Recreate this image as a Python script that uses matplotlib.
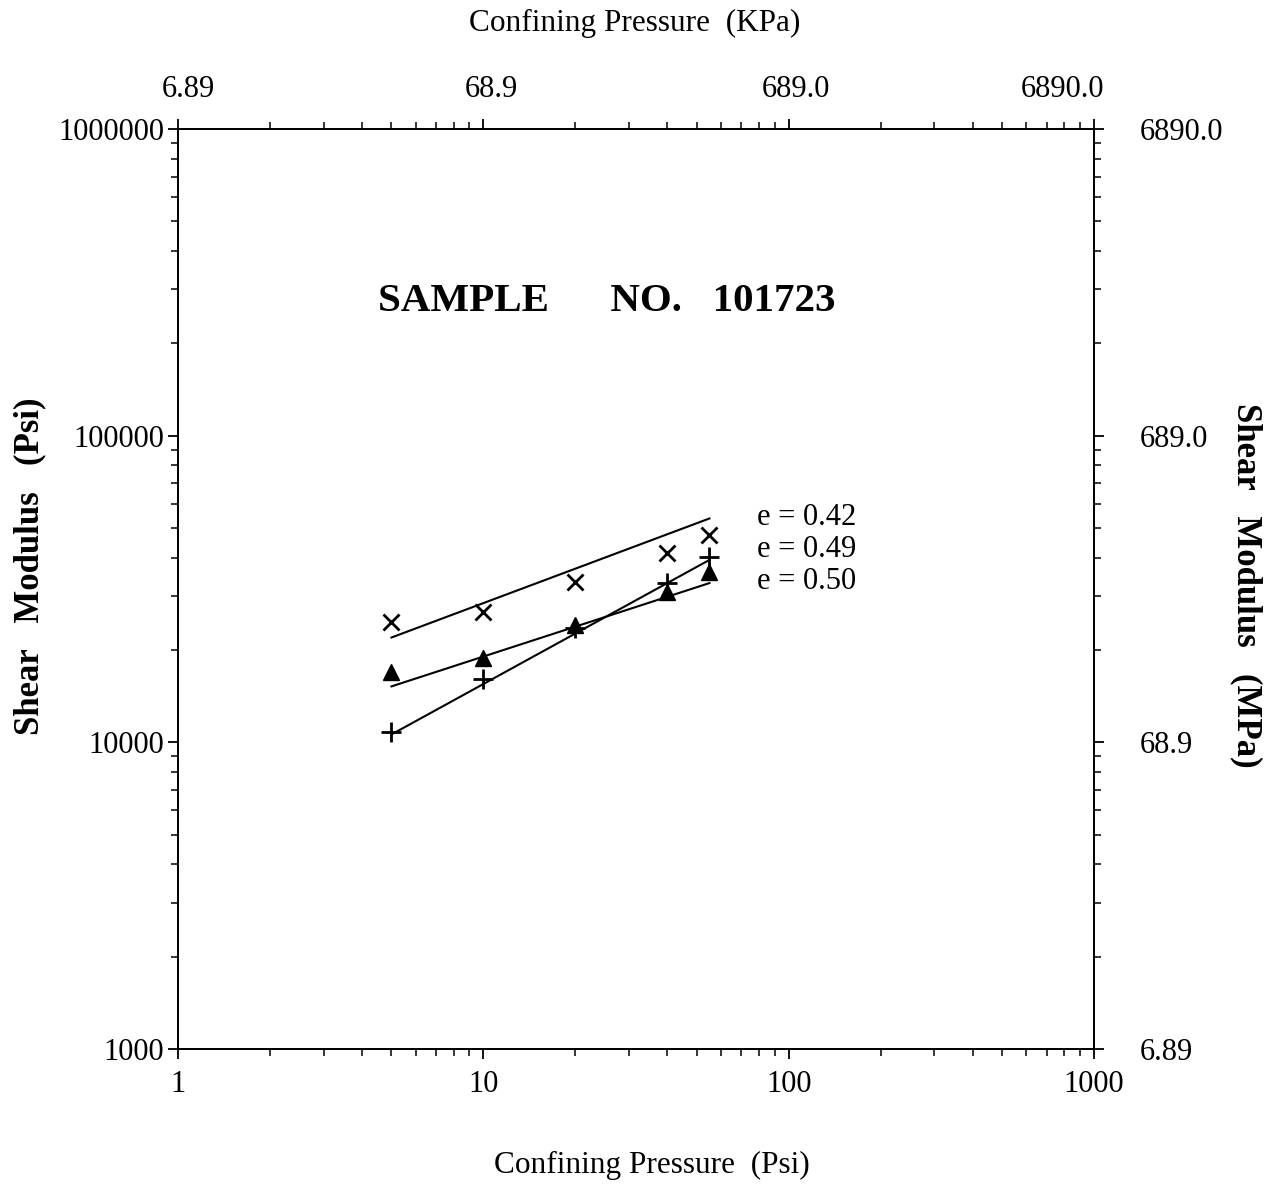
import matplotlib
matplotlib.use("Agg")
import matplotlib.pyplot as plt
import matplotlib.transforms as mtransforms
from matplotlib.ticker import LogLocator, NullFormatter, FixedLocator

plt.rcParams['font.family'] = ['Liberation Serif', 'DejaVu Serif']

# ---- data ----
pressure_psi = [5, 10, 20, 40, 55]
g_e042 = [24700, 26600, 33300, 41400, 47400]
g_e049 = [10800, 16100, 23600, 33100, 40200]
g_e050 = [16960, 18840, 24150, 30900, 35930]

fit_x = [5, 55]
fit_e042 = [21970, 53700]
fit_e049 = [10610, 39340]
fit_e050 = [15220, 33060]

labels_e = ["e = 0.42", "e = 0.49", "e = 0.50"]
label_y = [54300, 42700, 33350]
label_x = 78.8

x_ticks = [1, 10, 100, 1000]
x_ticklabels = ["1", "10", "100", "1000"]
top_ticklabels = ["6.89", "68.9", "689.0", "6890.0"]
y_ticks = [1000, 10000, 100000, 1000000]
y_ticklabels = ["1000", "10000", "100000", "1000000"]
right_ticklabels = ["6.89", "68.9", "689.0", "6890.0"]

fig = plt.figure(figsize=(12.8, 11.88), dpi=100)
ax = fig.add_axes([0.1391, 0.1170, 0.7156, 0.7744])
ax.set_xscale('log')
ax.set_yscale('log')
ax.set_xlim(1, 1000)
ax.set_ylim(1000, 1000000)

lw = 1.5
ax.plot(fit_x, fit_e042, color='black', lw=lw)
ax.plot(fit_x, fit_e049, color='black', lw=lw)
ax.plot(fit_x, fit_e050, color='black', lw=lw)
ax.plot(pressure_psi, g_e042, linestyle='none', marker='x', ms=12, mew=2, color='black')
ax.plot(pressure_psi, g_e049, linestyle='none', marker='+', ms=15, mew=2, color='black')
ax.plot(pressure_psi, g_e050, linestyle='none', marker='^', ms=11, color='black')

for t, yv in zip(labels_e, label_y):
    ax.text(label_x, yv, t, fontsize=22, va='center', ha='left')

ax.text(0.468, 0.812, "SAMPLE      NO.   101723", transform=ax.transAxes,
        fontsize=29.5, fontweight='bold', ha='center', va='center')

def style(a):
    a.tick_params(which='major', direction='out', length=7, width=1.3, labelsize=22, pad=3)
    a.tick_params(which='minor', direction='out', length=5, width=1.1)

ax.xaxis.set_major_locator(FixedLocator(x_ticks))
ax.set_xticklabels(x_ticklabels)
ax.yaxis.set_major_locator(FixedLocator(y_ticks))
ax.set_yticklabels(y_ticklabels)
ax.xaxis.set_minor_locator(LogLocator(base=10, subs=range(2, 10)))
ax.yaxis.set_minor_locator(LogLocator(base=10, subs=range(2, 10)))
ax.xaxis.set_minor_formatter(NullFormatter())
ax.yaxis.set_minor_formatter(NullFormatter())
style(ax)
ax.tick_params(axis='x', which='major', pad=8)

axt = ax.twiny()
axt.set_xscale('log')
axt.set_xlim(ax.get_xlim())
axt.xaxis.set_major_locator(FixedLocator(x_ticks))
axt.set_xticklabels(top_ticklabels)
axt.xaxis.set_minor_locator(LogLocator(base=10, subs=range(2, 10)))
axt.xaxis.set_minor_formatter(NullFormatter())
style(axt)
axt.tick_params(axis='x', which='major', pad=11)
top_offsets_px = [10, 8, 7, -32]
for lab, dx in zip(axt.get_xticklabels(), top_offsets_px):
    lab.set_transform(lab.get_transform() +
                      mtransforms.ScaledTranslation(dx / 100, 0, fig.dpi_scale_trans))

axr = ax.twinx()
axr.set_yscale('log')
axr.set_ylim(ax.get_ylim())
axr.yaxis.set_major_locator(FixedLocator(y_ticks))
axr.set_yticklabels(right_ticklabels)
axr.yaxis.set_minor_locator(LogLocator(base=10, subs=range(2, 10)))
axr.yaxis.set_minor_formatter(NullFormatter())
style(axr)
axr.tick_params(axis='y', which='major', pad=26)

for a in (ax, axt, axr):
    for s in a.spines.values():
        s.set_linewidth(1.2)

fig.text(652/1280, 1 - 1165/1188, "Confining Pressure  (Psi)", fontsize=22.5, ha='center', va='center')
fig.text(635/1280, 1 - 23/1188, "Confining Pressure  (KPa)", fontsize=22.5, ha='center', va='center')
fig.text(30/1280, 1 - 566/1188, "Shear   Modulus   (Psi)", fontsize=25, fontweight='bold',
         rotation=90, ha='center', va='center')
fig.text(1246/1280, 1 - 585/1188, "Shear   Modulus   (MPa)", fontsize=25, fontweight='bold',
         rotation=-90, ha='center', va='center')

fig.savefig("out.png", dpi=100, facecolor='white')
